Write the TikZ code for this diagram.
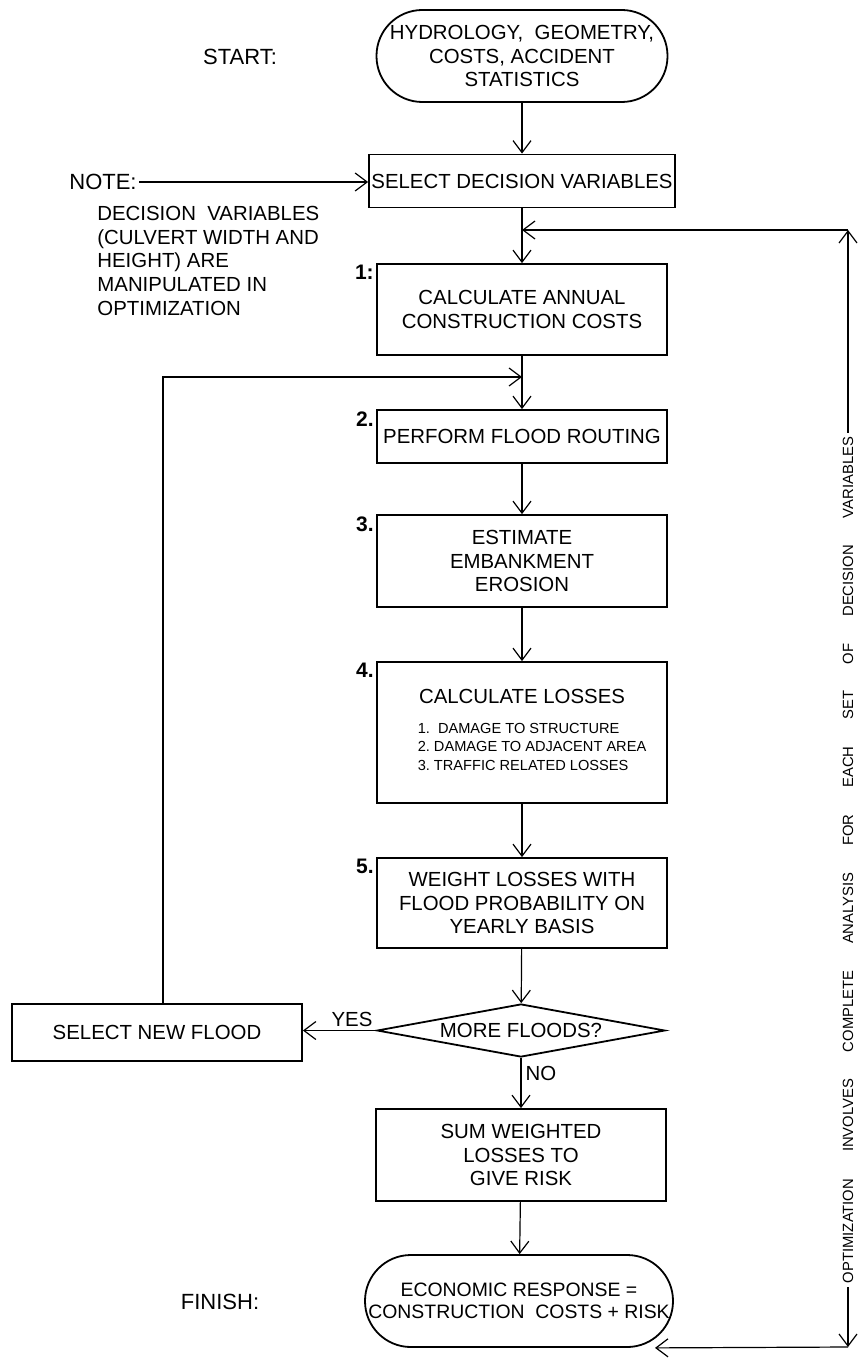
\documentclass[tikz,border=0pt]{standalone}
\usepackage{fontspec}
\setmainfont{Liberation Sans}
\usetikzlibrary{arrows.meta,shapes.geometric}

\begin{document}
\begin{tikzpicture}[x=0.5pt, y=-0.5pt,
    every node/.style={font=\fontsize{10.2}{11.8}\selectfont},
    procbox/.style={draw, line width=0.9pt, minimum width=145pt, align=center, inner sep=1pt},
    termbox/.style={draw, line width=0.9pt, rounded corners=22.9pt, minimum height=46pt,
                    align=center, inner xsep=0pt},
    condbox/.style={draw, diamond, aspect=5.4, line width=0.9pt, minimum width=144pt,
                    minimum height=26.5pt, inner sep=0pt},
    numlbl/.style={anchor=north east, inner sep=1pt, font=\fontsize{10.5}{12}\selectfont\bfseries},
    sidelbl/.style={font=\fontsize{11}{13}\selectfont},
    flowarr/.style={-{Straight Barb[length=6pt,width=9pt]}, line width=0.6pt}]
      \useasboundingbox (0,0) rectangle (859,1363);

      \node[termbox, minimum width=145.5pt] (start) at (522,56)
            {HYDROLOGY, \ GEOMETRY,\\COSTS, ACCIDENT\\STATISTICS};
      \node[sidelbl] (startlbl) at (240,57) {START:};

      \node[procbox, minimum width=153pt, minimum height=26.5pt] (sel) at (522,181)
            {SELECT DECISION VARIABLES};
      \node[sidelbl, anchor=east, inner sep=1pt] (note) at (139,182) {NOTE:};
      \node[anchor=north west, align=left, inner sep=0pt] (notetxt) at (97,206)
            {DECISION \ VARIABLES\\(CULVERT WIDTH AND\\HEIGHT) ARE\\MANIPULATED IN\\OPTIMIZATION};

      \node[procbox, minimum height=45.5pt] (cost)  at (522,309.5) {CALCULATE ANNUAL\\CONSTRUCTION COSTS};
      \node[procbox, minimum height=26.5pt] (route) at (522,436.5) {PERFORM FLOOD ROUTING};
      \node[procbox, minimum height=46pt]   (erode) at (522,561)   {ESTIMATE\\EMBANKMENT\\EROSION};
      \node[procbox, minimum height=70.5pt] (loss)  at (522,732.5)
            {CALCULATE LOSSES\\[3pt]{\fontsize{7.3}{9.3}\selectfont\begin{tabular}[t]{@{\hspace{10pt}}l@{}}
             1.\ \ DAMAGE TO STRUCTURE\\2.\ DAMAGE TO ADJACENT AREA\\3.\ TRAFFIC RELATED LOSSES\end{tabular}}};
      \node[procbox, minimum height=45pt]   (weigh) at (522,903)
            {WEIGHT LOSSES WITH\\FLOOD PROBABILITY ON\\YEARLY BASIS};
      \node[condbox] (more)  at (521,1030.5) {MORE FLOODS?};
      \node[procbox, minimum height=28.5pt] (newfl) at (157,1032.5) {SELECT NEW FLOOD};
      \node[procbox, minimum height=46pt]   (sum)   at (521,1155)  {SUM WEIGHTED\\LOSSES TO\\GIVE RISK};
      \node[termbox, minimum width=154pt, font=\fontsize{9.7}{11.2}\selectfont] (finish) at (519,1301)
            {ECONOMIC RESPONSE =\\CONSTRUCTION \ COSTS + RISK};
      \node[sidelbl] (finlbl) at (220,1302) {FINISH:};

      \node[numlbl] (n1) at (cost.north west)  {1:};
      \node[numlbl] (n2) at (route.north west) {2.};
      \node[numlbl] (n3) at (erode.north west) {3.};
      \node[numlbl] (n4) at (loss.north west)  {4.};
      \node[numlbl] (n5) at (weigh.north west) {5.};

      \draw[flowarr] (start) -- (sel);
      \draw[flowarr] (note.east) -- (note.east -| sel.west);
      \draw[flowarr] (sel) -- (cost);
      \draw[flowarr] (cost) -- (route);
      \draw[flowarr] (route) -- (erode);
      \draw[flowarr] (erode) -- (loss);
      \draw[flowarr] (loss) -- (weigh);
      \draw[flowarr] (weigh) -- (more);
      \draw[flowarr] (more.west) -- node[pos=0.33, above, inner sep=1.5pt] {YES} (more.west -| newfl.east);
      \draw[flowarr] (more.south) -- node[pos=0.32, right, inner sep=2pt] {NO} (sum.north);
      \draw[flowarr] (sum) -- (finish);

      \coordinate (loopin) at (522,377);
      \draw[flowarr] ([xshift=3pt]newfl.north) |- (loopin);

      \node[rotate=90, fill=white, inner sep=2pt, font=\fontsize{7.4}{8}\selectfont] (optim) at (848,860)
            {\makebox[423pt][s]{OPTIMIZATION INVOLVES COMPLETE ANALYSIS FOR EACH SET OF DECISION VARIABLES}};
      \coordinate (fbtop) at (848,230);
      \coordinate (fbbot) at (848,1347);
      \coordinate (finin) at ([xshift=68pt]finish.south);
      \draw[flowarr] (optim.east) -- (fbtop);
      \draw[flowarr] (optim.west) -- (fbbot);
      \draw[flowarr] (fbtop) -- (fbtop -| sel.south);
      \draw[flowarr] (fbbot) -- (finin);
    \end{tikzpicture}
\end{document}
